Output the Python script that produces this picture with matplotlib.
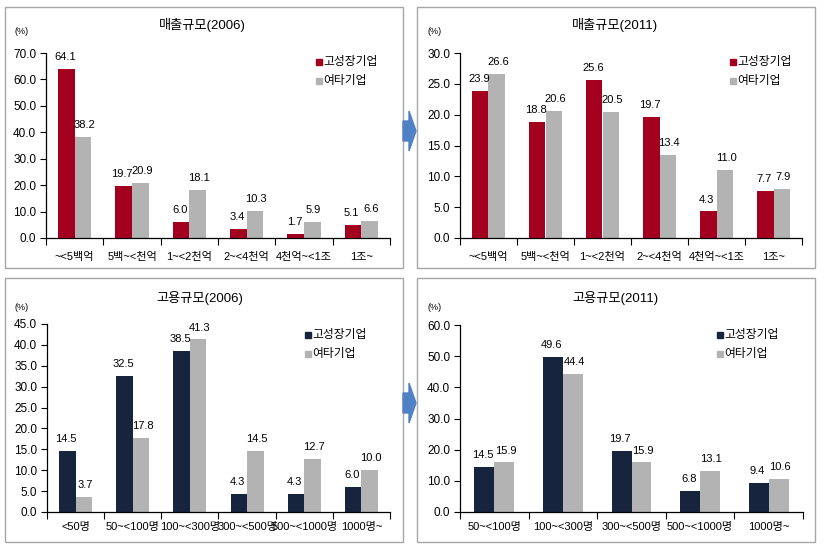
import matplotlib
matplotlib.use("Agg")
import matplotlib.pyplot as plt
from matplotlib.patches import Rectangle, Polygon
import numpy as np

plt.rcParams['font.family'] = ['Liberation Sans', 'Noto Sans CJK KR', 'DejaVu Sans']

W, H = 828, 547

# 데이터
sales_cats = ['~<5백억', '5백~<천억', '1~<2천억', '2~<4천억', '4천억~<1조', '1조~']
sales_2006_high = [64.1, 19.7, 6.0, 3.4, 1.7, 5.1]
sales_2006_other = [38.2, 20.9, 18.1, 10.3, 5.9, 6.6]
sales_2011_high = [23.9, 18.8, 25.6, 19.7, 4.3, 7.7]
sales_2011_other = [26.6, 20.6, 20.5, 13.4, 11.0, 7.9]

emp_2006_cats = ['<50명', '50~<100명', '100~<300명', '300~<500명', '500~<1000명', '1000명~']
emp_2006_high = [14.5, 32.5, 38.5, 4.3, 4.3, 6.0]
emp_2006_other = [3.7, 17.8, 41.3, 14.5, 12.7, 10.0]
emp_2011_cats = ['50~<100명', '100~<300명', '300~<500명', '500~<1000명', '1000명~']
emp_2011_high = [14.5, 49.6, 19.7, 6.8, 9.4]
emp_2011_other = [15.9, 44.4, 15.9, 13.1, 10.6]

series_names = ['고성장기업', '여타기업']

RED = '#A3001F'
NAVY = '#17243D'
GRAY = '#B3B3B3'

fig = plt.figure(figsize=(W / 100, H / 100), dpi=100)


def fx(x):
    return x / W


def fy(y):
    return 1 - y / H


def panel(box, ax_px, title, title_xy, pct_xy, leg_xy, cats, v1, v2, c1, ymax, step,
          lab_off):
    # 테두리
    bx0, by0, bx1, by1 = box
    fig.patches.append(Rectangle((fx(bx0), fy(by1)), fx(bx1 - bx0), (by1 - by0) / H,
                                 transform=fig.transFigure, fill=False,
                                 edgecolor='#A6A6A6', linewidth=1))
    l, r, t, b = ax_px
    ax = fig.add_axes([fx(l), fy(b), fx(r - l), (b - t) / H])
    n = len(cats)
    x = np.arange(n)
    w = 0.29
    ax.bar(x - w / 2, v1, w, color=c1)
    ax.bar(x + w / 2, v2, w, color=GRAY)
    for i in range(n):
        ax.annotate(f'{v1[i]:.1f}', (x[i] - w / 2, v1[i]), xytext=(-1, 5),
                    textcoords='offset points', ha='center', va='bottom', fontsize=8)
        ax.annotate(f'{v2[i]:.1f}', (x[i] + w / 2, v2[i]), xytext=(1, 5),
                    textcoords='offset points', ha='center', va='bottom', fontsize=8)
    ax.set_xlim(-0.5, n - 0.5)
    ax.set_ylim(0, ymax)
    ax.set_yticks(np.arange(0, ymax + 0.01, step))
    ax.set_yticklabels([f'{v:.1f}' for v in np.arange(0, ymax + 0.01, step)], fontsize=8.5)
    ax.set_xticks(x)
    ax.set_xticklabels(cats, fontsize=8)
    ax.set_xticks(np.arange(-0.5, n, 1), minor=True)
    ax.tick_params(axis='x', which='major', length=0, pad=lab_off)
    ax.tick_params(axis='x', which='minor', length=5, direction='out', width=0.8)
    ax.tick_params(axis='y', length=4, direction='out', width=0.8, pad=3)
    for s in ['top', 'right']:
        ax.spines[s].set_visible(False)
    for s in ['left', 'bottom']:
        ax.spines[s].set_linewidth(0.9)
    fig.text(fx(title_xy[0]), fy(title_xy[1]), title, ha='center', va='center', fontsize=9.5)
    fig.text(fx(pct_xy[0]), fy(pct_xy[1]), '(%)', ha='center', va='center', fontsize=6.5)
    mx, my = leg_xy
    for k, (name, col) in enumerate(zip(series_names, [c1, GRAY])):
        yy = my + k * 19
        fig.patches.append(Rectangle((fx(mx), fy(yy + 3)), fx(6), 6 / H,
                                     transform=fig.transFigure, color=col))
        fig.text(fx(mx + 7), fy(yy), name, ha='left', va='center', fontsize=8.5)
    return ax


panel((5, 7, 403, 268), (46, 390, 53, 238), '매출규모(2006)', (202, 25), (22, 32),
      (316, 62), sales_cats, sales_2006_high, sales_2006_other, RED, 70, 10, 10)
panel((417, 7, 815, 268), (460, 802, 53, 238), '매출규모(2011)', (615, 25), (435, 32),
      (730, 62), sales_cats, sales_2011_high, sales_2011_other, RED, 30, 5, 10)
panel((5, 278, 403, 542), (47, 390, 324, 512), '고용규모(2006)', (200, 298), (22, 308),
      (305, 335), emp_2006_cats, emp_2006_high, emp_2006_other, NAVY, 45, 5, 7)
panel((417, 278, 815, 542), (460, 803, 325, 512), '고용규모(2011)', (615, 298), (435, 308),
      (717, 335), emp_2011_cats, emp_2011_high, emp_2011_other, NAVY, 60, 10, 7)

# 화살표
for cy in [131, 403]:
    pts = [(403, cy - 10), (409, cy - 10), (409, cy - 20), (416, cy),
           (409, cy + 20), (409, cy + 10), (403, cy + 10)]
    fig.patches.append(Polygon([(fx(px), fy(py)) for px, py in pts], closed=True,
                               transform=fig.transFigure, color='#4F81C4', zorder=5))

fig.savefig('out.png', dpi=100)
